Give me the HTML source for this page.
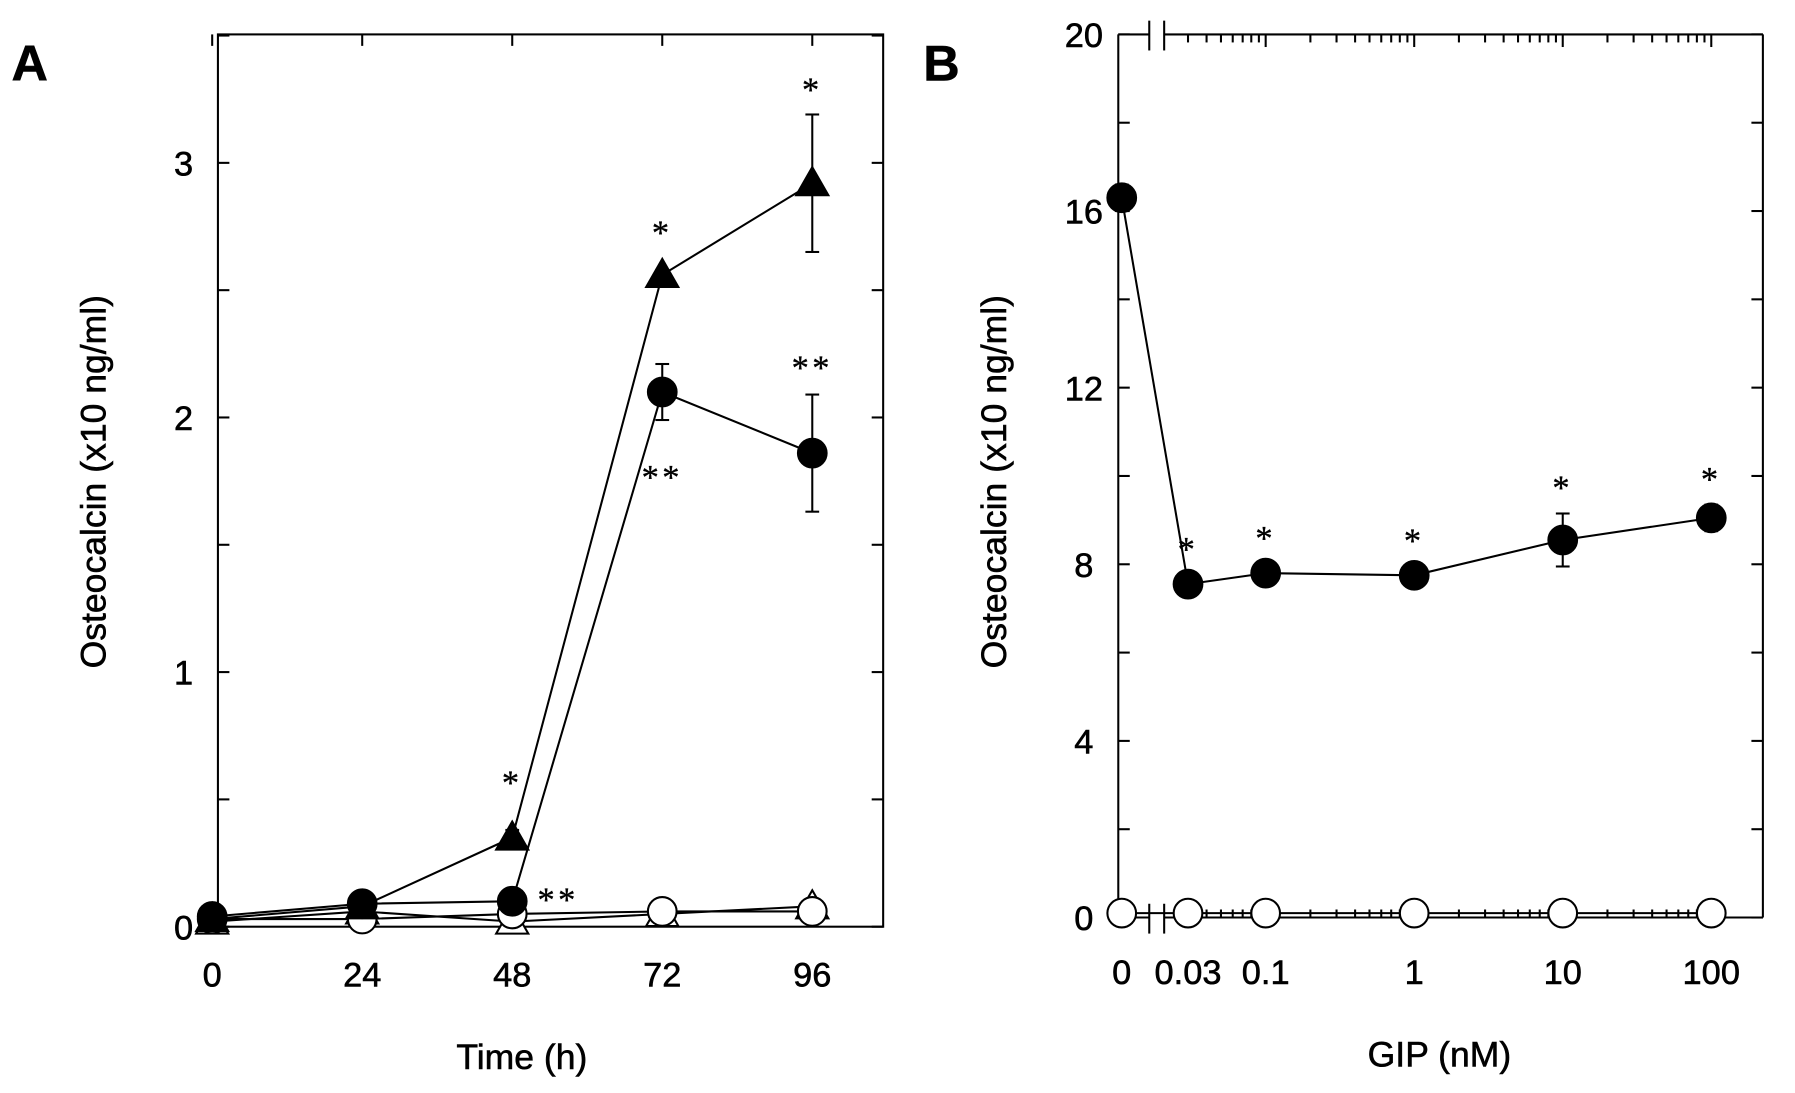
<!DOCTYPE html>
<html><head><meta charset="utf-8"><style>
html,body{margin:0;padding:0;background:#fff;}
svg{display:block;font-family:"Liberation Sans",sans-serif;}
</style></head><body>
<svg id="fig" width="1795" height="1093" viewBox="0 0 1565 953" preserveAspectRatio="none"></svg>
<script>
// Panel A data
const aTimes = [0, 24, 48, 72, 96];
const aFilledTri = [0.03, 0.08, 0.35, 2.56, 2.92];
const aFilledTriErr = [0, 0, 0.03, 0.02, 0.27];
const aFilledCirc = [0.04, 0.09, 0.10, 2.10, 1.86];
const aFilledCircErr = [0, 0, 0, 0.11, 0.23];
const aOpenCirc = [0.03, 0.03, 0.05, 0.06, 0.06];
const aOpenTri = [0.02, 0.06, 0.02, 0.05, 0.08];
const aYTicks = [0, 1, 2, 3];
// Panel B data
const bDoses = [0, 0.03, 0.1, 1, 10, 100];
const bDoseLabels = ["0", "0.03", "0.1", "1", "10", "100"];
const bFilled = [16.3, 7.55, 7.8, 7.75, 8.55, 9.05];
const bFilledErr = [0.3, 0.1, 0.1, 0.1, 0.6, 0.3];
const bOpen = [0.1, 0.1, 0.1, 0.1, 0.1, 0.1];
const bYTicks = [0, 4, 8, 12, 16, 20];

const NS = "http://www.w3.org/2000/svg";
const svg = document.getElementById("fig");
function el(tag, attrs, parent) {
  const e = document.createElementNS(NS, tag);
  for (const k in attrs) e.setAttribute(k, attrs[k]);
  (parent || svg).appendChild(e);
  return e;
}
function txt(x, y, s, size, anchor, extra) {
  const t = el("text", Object.assign({x: x, y: y, "font-size": size, "text-anchor": anchor || "middle", fill: "#000", stroke: "#000", "stroke-width": 0.5}, extra || {}));
  t.textContent = s;
  return t;
}
function line(x1, y1, x2, y2, w) {
  return el("line", {x1: x1, y1: y1, x2: x2, y2: y2, stroke: "#000", "stroke-width": w || 1.8});
}

// ---------- Panel A ----------
const ax = t => 185 + t / 24 * 130.8;
const ay = v => 808 - v * 222;
let t = txt(10, 70, "A", 44, "start", {"font-weight": "bold"});


let fr = el("rect", {x: 190, y: 30, width: 580, height: 778, fill: "none", stroke: "#000", "stroke-width": 1.8});


for (let v = 0; v <= 3.5; v += 0.5) {
  line(190, ay(v), 200, ay(v));
  line(760, ay(v), 770, ay(v));
}
aYTicks.forEach(v => {
  const l = txt(160, ay(v) + 11, String(v), 30, "middle");
  
  
});
aTimes.forEach(tm => {
  line(ax(tm), 808, ax(tm), 798);
  line(ax(tm), 30, ax(tm), 40);
  const l = txt(ax(tm), 860, String(tm), 30);
  
  
});
t = txt(455, 932, "Time (h)", 31);


t = txt(0, 0, "Osteocalcin (x10 ng/ml)", 31, "middle", {transform: "translate(92,420) rotate(-90)"});



function series(xs, ys, fx, fy, name) {
  const p = el("polyline", {points: xs.map((x, i) => fx(x) + "," + fy(ys[i])).join(" "), fill: "none", stroke: "#000", "stroke-width": 1.8});
  
  
}
function errs(xs, ys, es, fx, fy) {
  xs.forEach((x, i) => {
    if (!es[i]) return;
    const X = fx(x);
    line(X, fy(ys[i] - es[i]), X, fy(ys[i] + es[i]));
    line(X - 6, fy(ys[i] - es[i]), X + 6, fy(ys[i] - es[i]));
    line(X - 6, fy(ys[i] + es[i]), X + 6, fy(ys[i] + es[i]));
  });
}
function tri(X, Y, fill, name) {
  const s = 14;
  const p = el("polygon", {points: `${X},${Y - s} ${X - s},${Y + s * 0.75} ${X + s},${Y + s * 0.75}`, fill: fill, stroke: "#000", "stroke-width": 1.8});
  
  
}
function circ(X, Y, fill, name) {
  const c = el("circle", {cx: X, cy: Y, r: 12.5, fill: fill, stroke: "#000", "stroke-width": 1.8});
  
  
}
series(aTimes, aOpenTri, ax, ay, "a-open-triangle-line");
series(aTimes, aOpenCirc, ax, ay, "a-open-circle-line");
series(aTimes, aFilledCirc, ax, ay, "a-filled-circle-line");
series(aTimes, aFilledTri, ax, ay, "a-filled-triangle-line");
errs(aTimes, aFilledTri, aFilledTriErr, ax, ay);
errs(aTimes, aFilledCirc, aFilledCircErr, ax, ay);
aTimes.forEach((tm, i) => tri(ax(tm), ay(aOpenTri[i]), "#fff", "a-open-triangle-point"));
aTimes.forEach((tm, i) => circ(ax(tm), ay(aOpenCirc[i]), "#fff", "a-open-circle-point"));
aTimes.forEach((tm, i) => tri(ax(tm), ay(aFilledTri[i]), "#000", "a-filled-triangle-point"));
aTimes.forEach((tm, i) => circ(ax(tm), ay(aFilledCirc[i]), "#000", "a-filled-circle-point"));
function star(x, y, s, name) {
  const a = txt(x, y, s, 30, "middle", {"font-family": "Liberation Serif, serif", "letter-spacing": "3", "stroke-width": 0.3});
  
  
}
star(ax(48), ay(0.52), "*", "a-sig-marker");
star(ax(72), ay(2.68), "*", "a-sig-marker");
star(ax(96), ay(3.24), "*", "a-sig-marker");
star(ax(48) + 40, ay(0.06), "**", "a-sig-marker");
star(ax(72), ay(1.72), "**", "a-sig-marker");
star(ax(96), ay(2.15), "**", "a-sig-marker");

// ---------- Panel B ----------
const bxLog = d => 1233 + Math.log10(d) * 129.5;
const bx = d => d === 0 ? 978 : bxLog(d);
const by = v => 800 - v * 38.5;
t = txt(805, 70, "B", 44, "start", {"font-weight": "bold"});


line(975, 30, 975, 800);
line(1537, 30, 1537, 800);
line(975, 30, 1002, 30); line(1015, 30, 1537, 30);
line(975, 800, 1002, 800); line(1015, 800, 1537, 800);
[1002, 1015].forEach(x => { line(x, 18, x, 44); line(x, 788, x, 814); });
for (let v = 0; v <= 20; v += 2) {
  line(975, by(v), 985, by(v));
  line(1527, by(v), 1537, by(v));
}
bYTicks.forEach(v => {
  const l = txt(945, by(v) + 11, String(v), 30, "middle");
  
  
});
for (let e = -2; e <= 2; e++) {
  for (let m = 1; m <= 9; m++) {
    const d = m * Math.pow(10, e);
    const X = bxLog(d);
    if (X < 1018 || X > 1530) continue;
    const len = m === 1 ? 11 : 7;
    line(X, 800, X, 800 - len);
    line(X, 30, X, 30 + len);
  }
}
bDoses.forEach((d, i) => {
  const l = txt(bx(d), 858, bDoseLabels[i], 30);
  
  
});
t = txt(1255, 930, "GIP (nM)", 31);


t = txt(0, 0, "Osteocalcin (x10 ng/ml)", 31, "middle", {transform: "translate(877,420) rotate(-90)"});


series(bDoses, bOpen, bx, by, "b-open-circle-line");
series(bDoses, bFilled, bx, by, "b-filled-circle-line");
errs(bDoses, bFilled, bFilledErr, bx, by);
bDoses.forEach((d, i) => circ(bx(d), by(bOpen[i]), "#fff", "b-open-circle-point"));
bDoses.forEach((d, i) => circ(bx(d), by(bFilled[i]), "#000", "b-filled-circle-point"));
bDoses.forEach((d, i) => {
  if (i === 0) return;
  const top = by(bFilled[i] + bFilledErr[i]) - 22;
  star(bx(d), Math.min(top, by(bFilled[i]) - 30) + 10, "*", "b-sig-marker");
});
</script>
</body></html>
